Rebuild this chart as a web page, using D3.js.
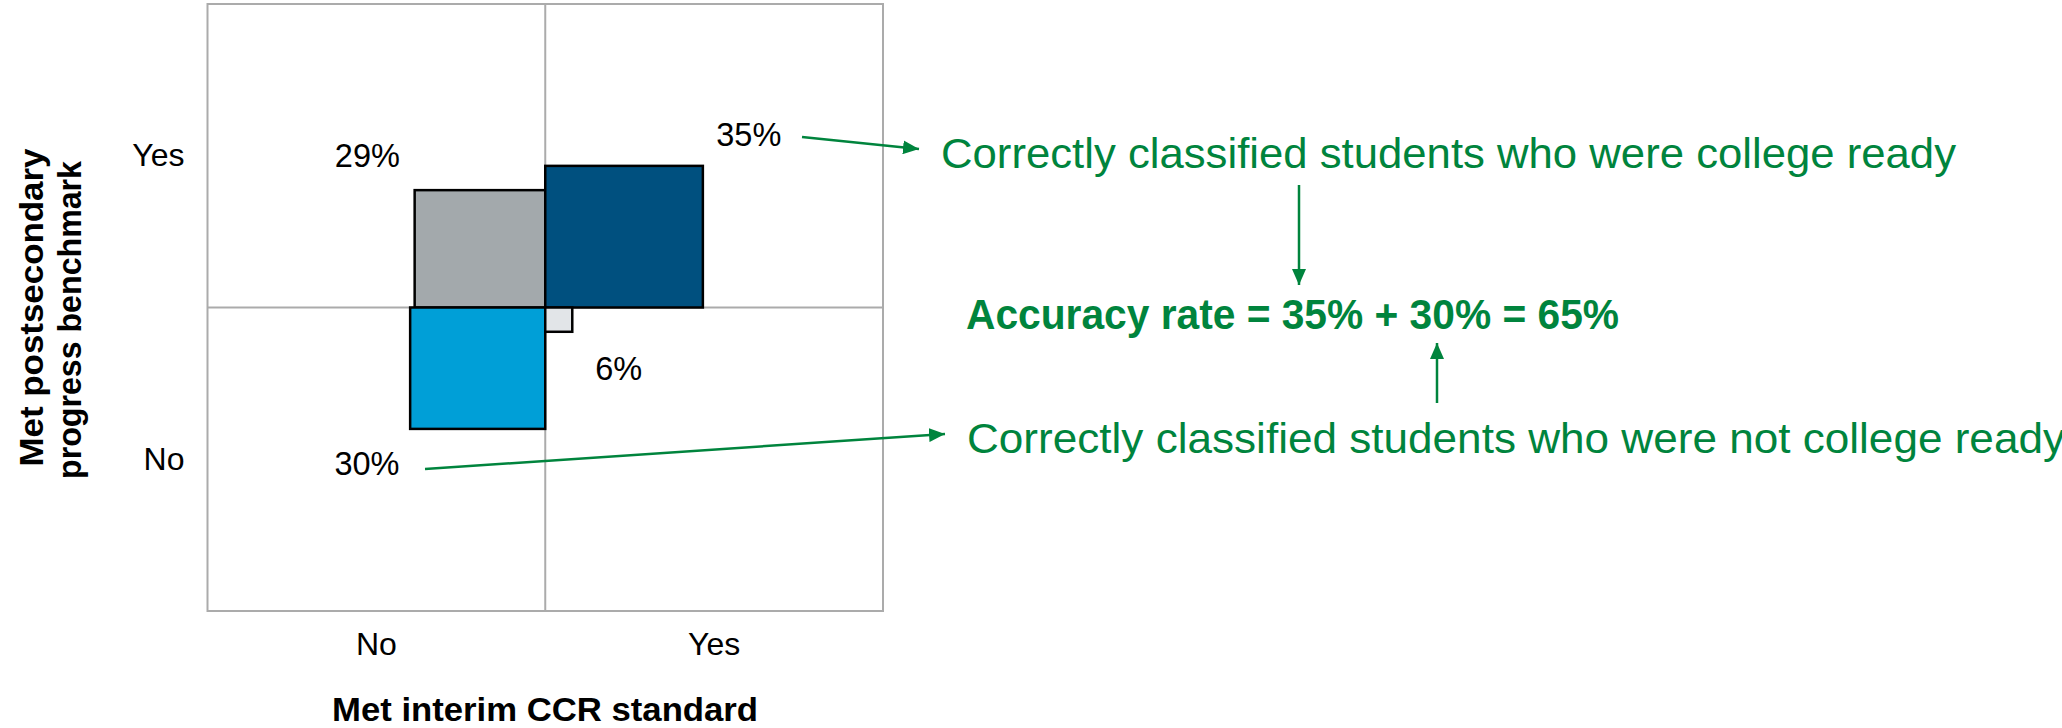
<!DOCTYPE html>
<html>
<head>
<meta charset="utf-8">
<script src="https://cdn.jsdelivr.net/npm/d3@7"></script>
<style>
  body { margin: 0; background: #fff; }
  text { font-family: "Liberation Sans", Arial, sans-serif; }
</style>
</head>
<body>
<script>
// data
var xCategories = ["No", "Yes"];          // met interim CCR standard
var yCategories = ["Yes", "No"];          // met postsecondary benchmark
var cellX = ["No", "Yes", "No", "Yes"];
var cellY = ["Yes", "Yes", "No", "No"];
var shares = [29, 35, 30, 6];
var cellColors = ["#A3A9AC", "#00507F", "#009FD7", "#E2E5E8"];

// label anchors, in share units around the centre of the grid
var labelAt = [[-39.5, 34.8], [45.2, 40], [-39.6, -41.3], [16.3, -17.8]];

var width = 2062, height = 728;
var green = "#00843D";

var svg = d3.select("body").append("svg")
    .attr("width", width)
    .attr("height", height);

// scales
var frame = {left: 207.5, right: 883, top: 4, bottom: 611};
var x = d3.scaleLinear().domain([-75, 75]).range([frame.left, frame.right]);
var y = d3.scaleLinear().domain([-75, 75]).range([frame.bottom, frame.top]);
var xBand = d3.scaleBand().domain(xCategories).range([frame.left, frame.right]);
var yBand = d3.scaleBand().domain(yCategories).range([frame.top, frame.bottom]);

// frame and centre lines
svg.append("rect")
    .attr("x", frame.left).attr("y", frame.top)
    .attr("width", frame.right - frame.left)
    .attr("height", frame.bottom - frame.top)
    .attr("fill", "none").attr("stroke", "#ABABAB").attr("stroke-width", 2);
svg.append("line")
    .attr("x1", x(0)).attr("x2", x(0))
    .attr("y1", frame.top).attr("y2", frame.bottom)
    .attr("stroke", "#ABABAB").attr("stroke-width", 2);
svg.append("line")
    .attr("x1", frame.left).attr("x2", frame.right)
    .attr("y1", y(0)).attr("y2", y(0))
    .attr("stroke", "#ABABAB").attr("stroke-width", 2);

// cells
var cells = shares.map(function(s, i) {
  var sx = cellX[i] === "Yes" ? 1 : -1,
      sy = cellY[i] === "Yes" ? 1 : -1;
  return {share: s, sx: sx, sy: sy, color: cellColors[i], label: labelAt[i]};
});

svg.selectAll(".cell")
    .data(cells)
  .enter().append("rect")
    .attr("class", "cell")
    .attr("x", function(d) { return Math.min(x(0), x(d.sx * d.share)); })
    .attr("y", function(d) { return Math.min(y(0), y(d.sy * d.share)); })
    .attr("width", function(d) { return Math.abs(x(d.sx * d.share) - x(0)); })
    .attr("height", function(d) { return Math.abs(y(d.sy * d.share) - y(0)); })
    .attr("fill", function(d) { return d.color; })
    .attr("stroke", "#000")
    .attr("stroke-width", 2.5);

svg.selectAll(".pct")
    .data(cells)
  .enter().append("text")
    .attr("class", "pct")
    .attr("x", function(d) { return x(d.label[0]); })
    .attr("y", function(d) { return y(d.label[1]); })
    .attr("text-anchor", "middle")
    .attr("font-size", 32.5)
    .text(function(d) { return d.share + "%"; });

// axes
var yAxis = svg.append("g")
    .attr("transform", "translate(" + frame.left + ",0)")
    .call(d3.axisLeft(yBand).tickSize(0).tickPadding(23));
var xAxis = svg.append("g")
    .attr("transform", "translate(0," + frame.bottom + ")")
    .call(d3.axisBottom(xBand).tickSize(0).tickPadding(21));
[xAxis, yAxis].forEach(function(a) {
  a.select(".domain").remove();
  a.selectAll("text")
      .attr("font-size", 32)
      .attr("font-family", "Liberation Sans, Arial, sans-serif")
      .attr("fill", "#000");
});

// axis titles
svg.append("text")
    .attr("x", 545).attr("y", 721)
    .attr("text-anchor", "middle")
    .attr("font-size", 33).attr("font-weight", "bold")
    .attr("textLength", 426).attr("lengthAdjust", "spacingAndGlyphs")
    .text("Met interim CCR standard");

svg.append("text")
    .attr("transform", "translate(43,307.5) rotate(-90)")
    .attr("text-anchor", "middle")
    .attr("font-size", 33).attr("font-weight", "bold")
    .attr("textLength", 318).attr("lengthAdjust", "spacingAndGlyphs")
    .text("Met postsecondary");
svg.append("text")
    .attr("transform", "translate(81,320) rotate(-90)")
    .attr("text-anchor", "middle")
    .attr("font-size", 33).attr("font-weight", "bold")
    .attr("textLength", 318).attr("lengthAdjust", "spacingAndGlyphs")
    .text("progress benchmark");

// annotations
var notes = [
  {text: "Correctly classified students who were college ready", x: 941, y: 168, len: 1015, bold: false},
  {text: "Accuracy rate = 35% + 30% = 65%", x: 966, y: 329, len: 653, bold: true},
  {text: "Correctly classified students who were not college ready", x: 967, y: 453, len: 1098, bold: false}
];

svg.selectAll(".note")
    .data(notes)
  .enter().append("text")
    .attr("class", "note")
    .attr("x", function(d) { return d.x; })
    .attr("y", function(d) { return d.y; })
    .attr("fill", green)
    .attr("font-family", "'Open Sans', 'Noto Sans', sans-serif")
    .attr("font-size", 43)
    .attr("font-weight", function(d) { return d.bold ? "bold" : "normal"; })
    .attr("textLength", function(d) { return d.len; })
    .attr("lengthAdjust", "spacingAndGlyphs")
    .text(function(d) { return d.text; });

svg.append("defs").append("marker")
    .attr("id", "head")
    .attr("markerUnits", "userSpaceOnUse")
    .attr("viewBox", "0 0 16 14")
    .attr("markerWidth", 16).attr("markerHeight", 14)
    .attr("refX", 16).attr("refY", 7)
    .attr("orient", "auto")
  .append("path")
    .attr("d", "M0,0L16,7L0,14Z")
    .attr("fill", green);

var arrows = [
  [[802, 137], [919, 149]],
  [[425, 469], [945, 434]],
  [[1299, 185], [1299, 285]],
  [[1437, 403], [1437, 343]]
];

svg.selectAll(".arrow")
    .data(arrows)
  .enter().append("line")
    .attr("class", "arrow")
    .attr("x1", function(d) { return d[0][0]; })
    .attr("y1", function(d) { return d[0][1]; })
    .attr("x2", function(d) { return d[1][0]; })
    .attr("y2", function(d) { return d[1][1]; })
    .attr("stroke", green)
    .attr("stroke-width", 2.5)
    .attr("marker-end", "url(#head)");
</script>
</body>
</html>
